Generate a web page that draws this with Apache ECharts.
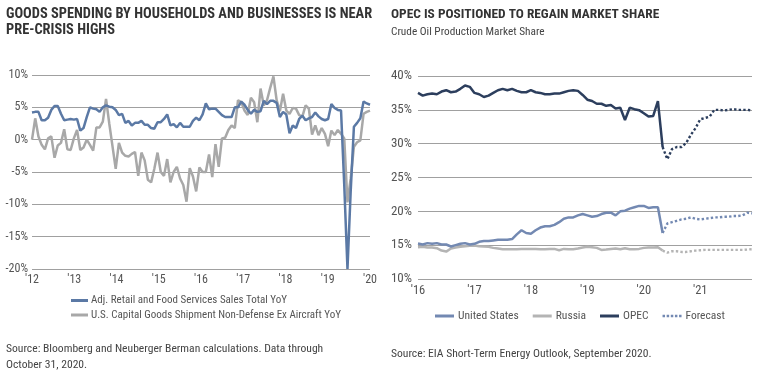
<!DOCTYPE html>
<html><head><meta charset="utf-8">
<script src="https://cdn.jsdelivr.net/npm/echarts@6/dist/echarts.min.js"></script>
<style>html,body{margin:0;padding:0;background:#fff}#c{width:760px;height:373px}</style>
</head><body><div id="c"></div>
<script>
const FONT = "'Roboto Condensed','DejaVu Sans Condensed',sans-serif";

// ---- Left chart: monthly YoY %, Jan 2012 .. Oct 2020
const leftXTickLabels = ["'12","'13","'14","'15","'16","'17","'18","'19","'20"];
const leftYTicks = [-20, -15, -10, -5, 0, 5, 10];
const retailYoY = [
  4.2, 4.3, 4.3, 3.0, 3.0, 3.4, 4.6, 5.2, 5.2, 4.0,
  3.0, 3.1, 3.2, 3.1, 3.2, 1.4, 1.8, 3.5, 5.0, 4.8,
  4.7, 4.3, 5.0, 5.3, 5.1, 5.0, 4.6, 3.8, 4.0, 2.6,
  2.9, 2.2, 2.6, 2.6, 2.9, 2.3, 2.3, 1.8, 1.7, 2.7,
  2.7, 3.2, 3.9, 2.2, 2.4, 1.9, 2.6, 2.0, 2.0, 2.0,
  2.9, 3.4, 3.0, 3.9, 5.6, 4.7, 4.8, 4.8, 4.3, 3.8,
  3.5, 3.5, 3.5, 5.0, 5.0, 5.9, 5.4, 4.6, 4.0, 4.6,
  4.3, 4.4, 6.0, 5.5, 6.0, 6.0, 5.7, 3.5, 4.3, 3.9,
  1.0, 2.2, 1.8, 3.2, 3.7, 3.0, 3.3, 3.5, 4.2, 3.6,
  3.2, 3.0, 3.2, 5.5, 4.9, 4.6, 4.5, -7.0, -20.0, -8.0,
  2.0, 2.6, 3.3, 5.9, 5.6, 5.4
];
const capGoodsYoY = [
  0.0, 3.3, 0.5, -0.8, -1.5, 0.2, 0.5, -2.8, -0.9, -0.5,
  1.6, -1.5, -1.6, 0.2, 1.5, -1.6, -1.2, 0.0, -0.8, -1.7,
  1.9, 1.9, 2.8, 6.3, 2.5, -1.0, -4.5, -0.5, -2.0, -2.5,
  -2.6, -2.2, -1.9, -5.6, -2.0, -3.2, -6.2, -6.6, -4.5, -2.0,
  -5.0, -5.6, -3.0, -6.6, -5.0, -4.2, -6.0, -7.0, -9.6, -4.4,
  -5.7, -8.0, -4.3, -5.0, -5.0, -2.3, -5.8, -0.7, -4.2, 0.2,
  0.3, 1.5, 2.2, 1.8, 6.1, 5.8, 4.5, 3.8, 6.5, 5.8,
  2.7, 7.9, 5.3, 6.1, 8.0, 9.8, 6.1, 4.4, 7.1, 4.5,
  4.0, 4.9, 4.8, 3.8, 3.6, 5.3, 4.8, 0.8, 2.2, 0.7,
  1.8, 0.9, -1.0, 1.4, 0.7, 1.5, 0.9, 0.2, -9.7, -6.0,
  -1.1, -0.4, -0.1, 4.0, 4.3, 4.5
];

// ---- Right chart: monthly market share %, Jan 2016 .. Dec 2021
const rightXTickLabels = ["'16","'17","'18","'19","'20","'21"];
const rightYTicks = [10, 15, 20, 25, 30, 35, 40];
const usActual = [
  15.25, 15.1, 15.3, 15.2, 15.3, 15.1, 15.1, 14.8, 15.0, 15.2,
  15.3, 15.1, 15.2, 15.5, 15.6, 15.6, 15.7, 15.8, 15.8, 15.8,
  15.9, 16.6, 17.2, 16.8, 16.7, 17.2, 17.6, 17.8, 17.8, 18.0,
  18.4, 18.9, 19.1, 19.1, 19.4, 19.6, 19.4, 19.2, 19.3, 19.6,
  19.8, 19.8, 19.4, 20.0, 20.1, 20.4, 20.6, 20.8, 20.8, 20.5,
  20.6, 20.6, 16.8
];
const russiaActual = [
  14.7, 14.75, 14.65, 14.65, 14.55, 14.2, 14.05, 14.5, 14.65, 14.75,
  14.85, 14.9, 14.95, 14.85, 14.8, 14.75, 14.6, 14.5, 14.4, 14.4,
  14.4, 14.4, 14.45, 14.45, 14.45, 14.45, 14.4, 14.4, 14.45, 14.45,
  14.25, 14.45, 14.4, 14.4, 14.5, 14.65, 14.75, 14.7, 14.6, 14.3,
  14.35, 14.45, 14.5, 14.4, 14.55, 14.4, 14.4, 14.45, 14.6, 14.65,
  14.65, 14.7, 14.2
];
const opecActual = [
  37.5, 37.1, 37.3, 37.4, 37.3, 37.7, 37.9, 37.6, 37.7, 38.1,
  38.6, 38.4, 37.5, 37.3, 36.9, 37.1, 37.5, 37.9, 38.1, 37.9,
  38.1, 37.8, 37.6, 37.6, 37.9, 37.6, 37.5, 37.3, 37.3, 37.4,
  37.4, 37.6, 37.8, 37.9, 37.8, 37.2, 36.5, 36.3, 35.9, 35.9,
  35.6, 35.7, 35.2, 35.3, 33.5, 35.3, 35.1, 34.95, 34.5, 34.0,
  34.1, 36.3, 29.5
];
// forecasts start at the last actual month (May 2020)
const usForecast = [16.8, 18.2, 18.4, 18.6, 18.8, 18.9, 19.1, 18.9, 18.8, 18.9, 19.0, 19.1, 19.1, 19.2, 19.2, 19.3, 19.3, 19.4, 19.8, 19.7];
const russiaForecast = [14.2, 13.9, 14.1, 14.1, 14.0, 14.0, 14.1, 14.2, 14.25, 14.3, 14.3, 14.3, 14.3, 14.3, 14.3, 14.3, 14.3, 14.3, 14.35, 14.4];
const opecForecast = [29.5, 27.7, 29.2, 29.5, 29.5, 30.1, 31.3, 32.3, 33.6, 33.8, 34.0, 35.0, 35.0, 34.9, 35.0, 35.1, 35.0, 35.0, 35.0, 34.9];

const C_RETAIL = '#5b79a5', C_CAPG = '#a8a8a8';
const C_US = '#7389b2', C_RU = '#b4b4b4', C_OPEC = '#2c3e5d';
const TXT = '#555555', GRID = '#a0a0a0';

const leftN = retailYoY.length - 1;
const leftStep = leftN / (leftXTickLabels.length - 1);
const fStart = usActual.length - 1;
const lastIdx = fStart + usForecast.length - 1;
const pairs = (arr, off) => arr.map((v, i) => [i + (off || 0), v]);

const dotted = [2.4, 2.2];
const forecastIcon = 'path://M0,0H3V3H0Z M5,0H8V3H5Z M10,0H13V3H10Z M15,0H18V3H15Z M20,0H23V3H20Z';

const chart = echarts.init(document.getElementById('c'), null, {renderer: 'canvas'});
chart.setOption({
  animation: false,
  textStyle: {fontFamily: FONT},
  title: [
    {text: 'GOODS SPENDING BY HOUSEHOLDS AND BUSINESSES IS NEAR\nPRE-CRISIS HIGHS', left: 1, top: 1,
     textStyle: {fontFamily: FONT, fontSize: 14.4, fontWeight: 'bold', color: '#333', lineHeight: 16.5}},
    {text: 'OPEC IS POSITIONED TO REGAIN MARKET SHARE', left: 386, top: 1,
     textStyle: {fontFamily: FONT, fontSize: 13.4, fontWeight: 'bold', color: '#333', lineHeight: 16.5}},
    {text: 'Crude Oil Production Market Share', left: 386, top: 19,
     textStyle: {fontFamily: FONT, fontSize: 11.3, fontWeight: 'normal', color: '#444', lineHeight: 16}},
    {text: 'Source: Bloomberg and Neuberger Berman calculations. Data through\nOctober 31, 2020.', left: 1, top: 336,
     textStyle: {fontFamily: FONT, fontSize: 11.6, fontWeight: 'normal', color: '#444', lineHeight: 16}},
    {text: 'Source: EIA Short-Term Energy Outlook, September 2020.', left: 386, top: 341,
     textStyle: {fontFamily: FONT, fontSize: 11.6, fontWeight: 'normal', color: '#444', lineHeight: 16}}
  ],
  legend: [
    {data: [{name: 'Adj. Retail and Food Services Sales Total YoY', icon: 'rect'},
            {name: 'U.S. Capital Goods Shipment Non-Defense Ex Aircraft YoY', icon: 'rect'}],
     orient: 'vertical', left: 66, top: 290, itemGap: 3.5, itemWidth: 17, itemHeight: 3,
     textStyle: {fontFamily: FONT, fontSize: 11, color: TXT, padding: [0, 0, 0, -2]}},
    {data: [{name: 'United States', icon: 'rect'}, {name: 'Russia', icon: 'rect'},
            {name: 'OPEC', icon: 'rect'}, {name: 'Forecast', icon: forecastIcon}],
     orient: 'horizontal', left: 430, top: 305, itemGap: 14, itemWidth: 19, itemHeight: 3,
     textStyle: {fontFamily: FONT, fontSize: 11.5, color: TXT, padding: [0, 0, 0, -1]}}
  ],
  grid: [
    {left: 32, right: 390, top: 75, bottom: 104},
    {left: 418, right: 8, top: 76, bottom: 94}
  ],
  xAxis: [
    {gridIndex: 0, type: 'value', min: 0, max: leftN, interval: leftStep,
     axisLine: {show: false}, axisTick: {show: false}, splitLine: {show: false},
     axisLabel: {color: TXT, fontSize: 12, margin: 5, fontFamily: FONT,
       formatter: v => { const k = Math.round(v / leftStep); return Math.abs(k * leftStep - v) < 1e-6 ? (leftXTickLabels[k] || '') : ''; }}},
    {gridIndex: 1, type: 'value', min: 0, max: lastIdx, interval: 12,
     axisLine: {show: false}, axisTick: {show: false}, splitLine: {show: false},
     axisLabel: {color: TXT, fontSize: 12.5, margin: 5, fontFamily: FONT, showMaxLabel: false,
       formatter: v => (v % 12 === 0 ? (rightXTickLabels[v / 12] || '') : '')}}
  ],
  yAxis: [
    {gridIndex: 0, type: 'value', min: leftYTicks[0], max: leftYTicks[leftYTicks.length - 1], interval: 5,
     axisLine: {show: false}, axisTick: {show: false},
     splitLine: {lineStyle: {color: GRID, width: 1}},
     axisLabel: {color: TXT, fontSize: 12, margin: 4, fontFamily: FONT, formatter: '{value}%'}},
    {gridIndex: 1, type: 'value', min: rightYTicks[0], max: rightYTicks[rightYTicks.length - 1], interval: 5,
     axisLine: {show: false}, axisTick: {show: false},
     splitLine: {lineStyle: {color: GRID, width: 1}},
     axisLabel: {color: TXT, fontSize: 13, margin: 6, fontFamily: FONT, formatter: '{value}%'}}
  ],
  series: [
    {name: 'U.S. Capital Goods Shipment Non-Defense Ex Aircraft YoY', type: 'line', xAxisIndex: 0, yAxisIndex: 0,
     data: pairs(capGoodsYoY), showSymbol: false, symbol: 'none', color: C_CAPG, lineStyle: {width: 2.5, color: C_CAPG}},
    {name: 'Adj. Retail and Food Services Sales Total YoY', type: 'line', xAxisIndex: 0, yAxisIndex: 0,
     data: pairs(retailYoY), showSymbol: false, symbol: 'none', color: C_RETAIL, lineStyle: {width: 2.5, color: C_RETAIL}},

    {name: 'Russia', type: 'line', xAxisIndex: 1, yAxisIndex: 1, data: pairs(russiaActual),
     symbol: 'none', color: C_RU, lineStyle: {width: 2.5, color: C_RU}},
    {name: 'Russia forecast', type: 'line', xAxisIndex: 1, yAxisIndex: 1, data: pairs(russiaForecast, fStart),
     symbol: 'none', color: C_RU, lineStyle: {width: 2.4, color: C_RU, type: dotted}},
    {name: 'United States', type: 'line', xAxisIndex: 1, yAxisIndex: 1, data: pairs(usActual),
     symbol: 'none', color: C_US, lineStyle: {width: 2.5, color: C_US}},
    {name: 'Forecast', type: 'line', xAxisIndex: 1, yAxisIndex: 1, data: pairs(usForecast, fStart),
     symbol: 'none', color: C_US, lineStyle: {width: 2.4, color: C_US, type: dotted}},
    {name: 'OPEC', type: 'line', xAxisIndex: 1, yAxisIndex: 1, data: pairs(opecActual),
     symbol: 'none', color: C_OPEC, lineStyle: {width: 2.5, color: C_OPEC}},
    {name: 'OPEC forecast', type: 'line', xAxisIndex: 1, yAxisIndex: 1, data: pairs(opecForecast, fStart),
     symbol: 'none', color: C_OPEC, lineStyle: {width: 2.4, color: C_OPEC, type: dotted}}
  ]
});
</script>
</body></html>
